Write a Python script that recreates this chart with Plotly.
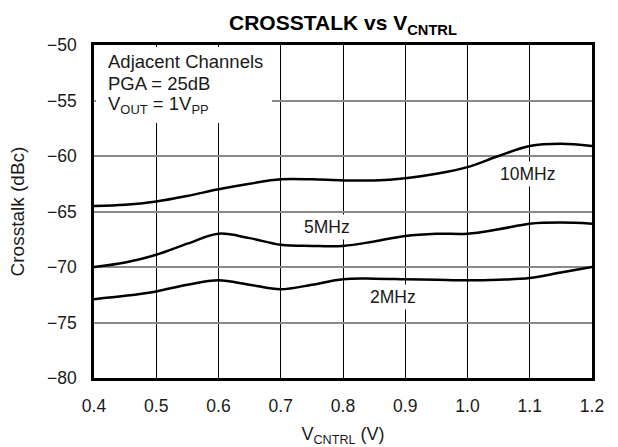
import plotly.graph_objects as go

# Control voltage (V)
v_cntrl = [0.40, 0.45, 0.50, 0.55, 0.60, 0.65, 0.70, 0.75, 0.80,
           0.85, 0.90, 0.95, 1.00, 1.05, 1.10, 1.15, 1.20]

# Crosstalk (dBc) per frequency
xt_10mhz = [-64.5, -64.4, -64.1, -63.6, -63.0, -62.5, -62.1, -62.1, -62.2,
            -62.2, -62.0, -61.6, -61.0, -60.0, -59.1, -58.9, -59.1]
xt_5mhz = [-70.0, -69.6, -68.9, -67.9, -67.0, -67.4, -68.0, -68.1, -68.1,
           -67.7, -67.2, -67.0, -67.0, -66.6, -66.1, -66.0, -66.1]
xt_2mhz = [-72.9, -72.6, -72.2, -71.6, -71.2, -71.6, -72.0, -71.6, -71.1,
           -71.05, -71.1, -71.15, -71.2, -71.15, -71.0, -70.5, -70.0]

x_ticks = [0.4, 0.5, 0.6, 0.7, 0.8, 0.9, 1.0, 1.1, 1.2]
x_tick_text = ["0.4", "0.5", "0.6", "0.7", "0.8", "0.9", "1.0", "1.1", "1.2"]
y_ticks = [-80, -75, -70, -65, -60, -55, -50]

curve_labels = [("10MHz", 1.096, -61.6), ("5MHz", 0.774, -66.4), ("2MHz", 0.88, -72.7)]
condition_lines = ["Adjacent Channels", "PGA = 25dB", "V<sub>OUT</sub> = 1V<sub>PP</sub>"]

FONT = "Liberation Sans, Arial, Helvetica, sans-serif"
TXT = "#1a1a1a"

W, H = 618, 447
M_L, M_R, M_T, M_B = 94, 26, 45, 69
PLOT_W = W - M_L - M_R
PLOT_H = H - M_T - M_B


def paper_x(px):
    """Convert a pixel column to paper x."""
    return (px - M_L) / PLOT_W


def paper_y(px):
    """Convert a pixel row (from the top of the page) to paper y."""
    return (H - M_B - px) / PLOT_H


fig = go.Figure()
for ys in (xt_10mhz, xt_5mhz, xt_2mhz):
    fig.add_trace(go.Scatter(
        x=v_cntrl, y=ys, mode="lines",
        line=dict(color="black", width=2.5, shape="spline", smoothing=1.0),
        showlegend=False, hoverinfo="skip",
    ))

annotations = []
for text, xv, yv in curve_labels:
    annotations.append(dict(
        x=xv, y=yv, xref="x", yref="y", text=text, showarrow=False,
        font=dict(family=FONT, size=17.5, color=TXT),
        bgcolor="white", borderpad=2,
    ))

# test-condition block in the upper-left corner
for i, line in enumerate(condition_lines):
    annotations.append(dict(
        x=paper_x(106), y=paper_y(62 + 21.5 * i), xref="paper", yref="paper",
        xanchor="left", yanchor="middle", text=line, align="left",
        showarrow=False, font=dict(family=FONT, size=18.5, color=TXT),
    ))

# white panel behind the condition block, masking the grid there
shapes = [dict(
    type="rect", xref="paper", yref="paper", layer="above",
    x0=paper_x(M_L + 2), x1=paper_x(272), y0=paper_y(123), y1=paper_y(M_T + 2),
    fillcolor="white", line=dict(width=0),
)]

fig.update_layout(
    width=W, height=H,
    margin=dict(l=M_L, r=M_R, t=M_T, b=M_B, autoexpand=False),
    paper_bgcolor="white", plot_bgcolor="white",
    title=dict(
        text="<b>CROSSTALK vs V<sub>CNTRL</sub></b>",
        x=0.5, xanchor="center", xref="paper",
        y=1 - 23 / H, yanchor="middle", yref="container",
        font=dict(family=FONT, size=21, color="black"),
    ),
    font=dict(family=FONT, size=17.5, color=TXT),
    annotations=annotations,
    shapes=shapes,
    xaxis=dict(
        range=[0.4, 1.2], tickvals=x_ticks, ticktext=x_tick_text,
        showgrid=True, gridcolor="black", gridwidth=1,
        showline=True, linecolor="black", linewidth=2.5, mirror=True,
        ticks="", zeroline=False, ticklabelstandoff=10, automargin=False,
        title=dict(text="V<sub>CNTRL</sub> (V)", font=dict(family=FONT, size=18, color=TXT), standoff=14),
        tickfont=dict(family=FONT, size=17.5, color=TXT),
    ),
    yaxis=dict(
        range=[-80, -50], tickvals=y_ticks,
        showgrid=True, gridcolor="#8a8a8a", gridwidth=1.5,
        showline=True, linecolor="black", linewidth=2.5, mirror=True,
        ticks="", zeroline=False, ticklabelstandoff=11, automargin=False,
        title=dict(text="Crosstalk (dBc)", font=dict(family=FONT, size=19, color=TXT), standoff=18),
        tickfont=dict(family=FONT, size=17.5, color=TXT),
    ),
)

fig.write_html("out.html")
